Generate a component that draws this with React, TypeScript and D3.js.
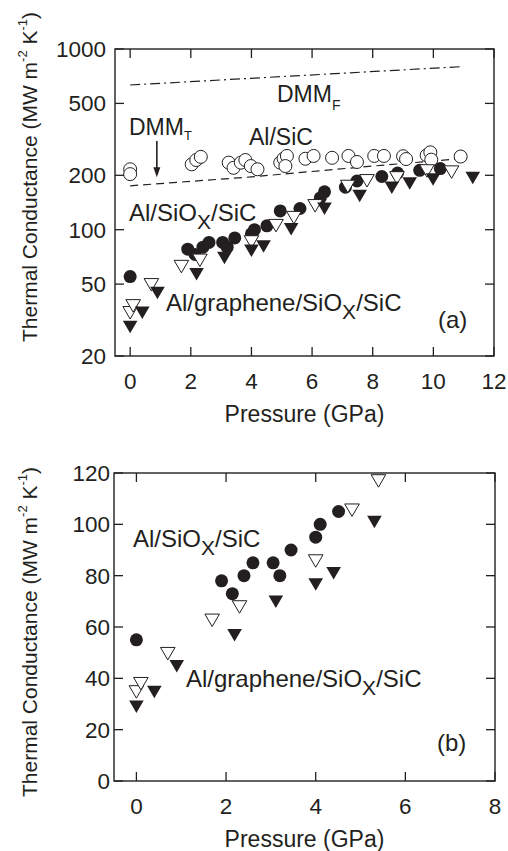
import React from 'react';
import * as d3 from 'd3';

// Al/SiC (open circles)
const alSiCP = [0, 0, 2.03, 2.18, 2.33, 3.25, 3.41, 3.65, 3.8, 3.98, 4.2, 4.95, 5.06, 5.17, 5.12, 5.78, 6.05, 6.66, 7.2, 7.48, 8.05, 8.37, 9.0, 9.1, 9.78, 9.9, 9.93, 10.9];
const alSiCK = [216, 203, 230, 243, 253, 235, 220, 235, 243, 225, 216, 235, 247, 256, 225, 247, 256, 250, 256, 237, 256, 256, 255, 246, 258, 268, 244, 254];

// Al/SiOx/SiC (filled circles)
const alSiOxP = [0, 1.9, 2.14, 2.4, 2.6, 3.05, 3.2, 3.45, 4.0, 4.1, 4.51, 4.95, 5.6, 6.27, 6.41, 7.1, 7.48, 8.3, 8.82, 9.55, 10.23];
const alSiOxK = [55, 78, 73, 80, 85, 85, 80, 90, 95, 100, 105, 127, 131, 150, 162, 172, 186, 197, 206, 213, 218];

// open triangles
const openTriP = [0, 0.1, 0.7, 1.69, 2.3, 4.0, 4.81, 5.4, 6.1, 7.18, 7.81, 8.8, 9.79, 10.6];
const openTriK = [34.8, 38, 49.7, 62.7, 67.9, 85.8, 105.6, 117, 136, 174, 187, 194, 212, 209];

// Al/graphene/SiOx/SiC (filled triangles)
const grapheneP = [0, 0.4, 0.9, 2.19, 3.11, 4.0, 4.4, 5.31, 6.41, 7.57, 8.63, 9.22, 9.99, 11.3];
const grapheneK = [29, 34.8, 44.8, 56.9, 69.9, 76.7, 81, 101, 131, 154, 171, 181, 190, 194];

// model lines
const dmmFP = [0, 11];
const dmmFK = [632, 800];
const dmmTP = [0, 4, 8, 11];
const dmmTK = [175, 196, 225, 248];
const arrowP = 0.88;
const arrowK = [310, 195];

// ticks
const xTicksA = [0, 2, 4, 6, 8, 10, 12];
const yTicksA = [20, 50, 100, 200, 500, 1000];
const xTicksB = [0, 2, 4, 6, 8];
const yTicksB = [0, 20, 40, 60, 80, 100, 120];

const FONT = "'Liberation Sans', Arial, Helvetica, sans-serif";
const INK = '#231f20';
const TICK = 9;
const TRI = 'M-7.3,-6L7.3,-6L0,6.5Z';

const zip = (xs: number[], ys: number[]) => xs.map((x, i) => [x, ys[i]] as [number, number]);

type Sc = (v: number) => number;

const Frame = ({ x, y, xt, yt, yLabelEnd }: { x: any; y: any; xt: number[]; yt: number[]; yLabelEnd: number }) => {
  const [x0, x1] = x.range();
  const [y0, y1] = y.range();
  return (
    <g>
      <rect x={x0} y={y1} width={x1 - x0} height={y0 - y1} fill="none" stroke={INK} strokeWidth={1.4} />
      {xt.map(t => (
        <g key={'x' + t}>
          <line x1={x(t)} x2={x(t)} y1={y0} y2={y0 - TICK} stroke={INK} strokeWidth={1.3} />
          <line x1={x(t)} x2={x(t)} y1={y1} y2={y1 + TICK} stroke={INK} strokeWidth={1.3} />
          <text x={x(t)} y={y0 + 33} textAnchor="middle" fontSize={22.5}>{t}</text>
        </g>
      ))}
      {yt.map(t => (
        <g key={'y' + t}>
          <line x1={x0} x2={x0 + TICK} y1={y(t)} y2={y(t)} stroke={INK} strokeWidth={1.3} />
          <line x1={x1} x2={x1 - TICK} y1={y(t)} y2={y(t)} stroke={INK} strokeWidth={1.3} />
          <text x={yLabelEnd} y={y(t)} dy="0.36em" textAnchor="end" fontSize={22.5}>{t}</text>
        </g>
      ))}
      <text x={(x0 + x1) / 2} y={y0 + 65.5} textAnchor="middle" fontSize={23}>Pressure (GPa)</text>
    </g>
  );
};

const YTitle = ({ cy }: { cy: number }) => (
  <text transform={`translate(37,${cy}) rotate(-90)`} textAnchor="middle" fontSize={21}>
    Thermal Conductance (MW m
    <tspan fontSize={13} dy={-10}>-2</tspan>
    <tspan dy={10}> K</tspan>
    <tspan fontSize={13} dy={-10}>-1</tspan>
    <tspan dy={10}>)</tspan>
  </text>
);

const Points = ({ x, y, keep }: { x: Sc; y: Sc; keep: (p: [number, number]) => boolean }) => (
  <g>
    {zip(alSiOxP, alSiOxK).filter(keep).map(([p, k], i) => (
      <circle key={'c' + i} cx={x(p)} cy={y(k)} r={6.5} fill={INK} />
    ))}
    {zip(openTriP, openTriK).filter(keep).map(([p, k], i) => (
      <path key={'o' + i} d={TRI} transform={`translate(${x(p)},${y(k)})`} fill="#fff" stroke={INK} strokeWidth={1} />
    ))}
    {zip(grapheneP, grapheneK).filter(keep).map(([p, k], i) => (
      <path key={'t' + i} d={TRI} transform={`translate(${x(p)},${y(k)})`} fill={INK} />
    ))}
  </g>
);

const SiOxLabel = ({ x, y, pre }: { x: number; y: number; pre: string }) => (
  <text x={x} y={y} fontSize={24}>
    {pre}
    <tspan fontSize={21} dy={8}>X</tspan>
    <tspan dy={-8}>/SiC</tspan>
  </text>
);

export default function App() {
  const xA = d3.scaleLinear().domain([-0.5, 12]).range([115, 494]);
  const yA = d3.scaleLog().domain([20, 1000]).range([356, 49]);
  const xB = d3.scaleLinear().domain([-0.5, 8]).range([114, 495]);
  const yB = d3.scaleLinear().domain([0, 120]).range([781, 473]);

  const lineA = d3.line<[number, number]>().x(d => xA(d[0])).y(d => yA(d[1]));

  return (
    <svg width={508} height={851} style={{ position: 'absolute', left: 0, top: 0 }} fontFamily={FONT} fill={INK}>
      <rect width={508} height={851} fill="#fff" />

      {/* (a) */}
      <path d={lineA(zip(dmmFP, dmmFK)) || ''} fill="none" stroke={INK} strokeWidth={1.2} strokeDasharray="10 4 2 4" />
      <path d={lineA(zip(dmmTP, dmmTK)) || ''} fill="none" stroke={INK} strokeWidth={1.2} strokeDasharray="8 5" />
      {zip(alSiCP, alSiCK).map(([p, k], i) => (
        <circle key={'a' + i} cx={xA(p)} cy={yA(k)} r={6.5} fill="#fff" stroke={INK} strokeWidth={1} />
      ))}
      <Points x={xA} y={yA} keep={() => true} />
      <line x1={xA(arrowP)} x2={xA(arrowP)} y1={yA(arrowK[0])} y2={yA(arrowK[1]) - 8} stroke={INK} strokeWidth={1.6} />
      <path d={`M${xA(arrowP) - 3.5},${yA(arrowK[1]) - 10}L${xA(arrowP) + 3.5},${yA(arrowK[1]) - 10}L${xA(arrowP)},${yA(arrowK[1])}Z`} fill={INK} />
      <Frame x={xA} y={yA} xt={xTicksA} yt={yTicksA} yLabelEnd={106} />
      <text x={277} y={101.5} fontSize={23}>DMM<tspan fontSize={14} dy={8}>F</tspan></text>
      <text x={129} y={135} fontSize={23}>DMM<tspan fontSize={13} dy={5}>T</tspan></text>
      <text x={249} y={145} fontSize={23}>Al/SiC</text>
      <SiOxLabel x={129} y={220.5} pre="Al/SiO" />
      <SiOxLabel x={166} y={311} pre="Al/graphene/SiO" />
      <text x={438} y={328} fontSize={24}>(a)</text>
      <YTitle cy={177} />

      {/* (b) */}
      <Points x={xB} y={yB} keep={([p, k]) => k <= 120 && p <= 8} />
      <Frame x={xB} y={yB} xt={xTicksB} yt={yTicksB} yLabelEnd={110} />
      <SiOxLabel x={133} y={547} pre="Al/SiO" />
      <SiOxLabel x={186} y={687} pre="Al/graphene/SiO" />
      <text x={437} y={750.5} fontSize={24}>(b)</text>
      <YTitle cy={632} />
    </svg>
  );
}
